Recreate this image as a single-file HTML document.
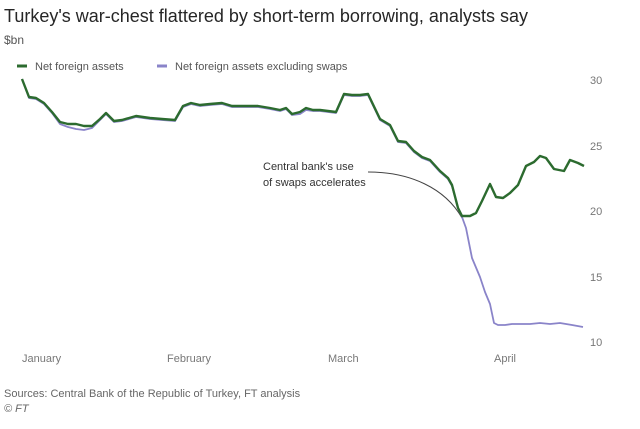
<!DOCTYPE html>
<html><head><style>
body{margin:0;background:#fff;}
svg text{font-family:"Liberation Sans",sans-serif;}
</style></head><body>
<svg width="640" height="424" xmlns="http://www.w3.org/2000/svg">
<rect width="640" height="424" fill="#fff"/>
<text x="4" y="22" font-size="18" fill="#262626">Turkey's war-chest flattered by short-term borrowing, analysts say</text>
<text x="4" y="44" font-size="12" fill="#555">$bn</text>
<line x1="17" y1="66" x2="27" y2="66" stroke="#2c6b2f" stroke-width="3"/>
<text x="35" y="70" font-size="11" fill="#555">Net foreign assets</text>
<line x1="157" y1="66" x2="167" y2="66" stroke="#8a84c9" stroke-width="3"/>
<text x="175" y="70" font-size="11" fill="#555">Net foreign assets excluding swaps</text>
<g font-size="11" fill="#777">
<text x="590" y="84">30</text><text x="590" y="150">25</text><text x="590" y="215">20</text><text x="590" y="281">15</text><text x="590" y="346">10</text>
<text x="22" y="362">January</text><text x="167" y="362">February</text><text x="328" y="362">March</text><text x="494" y="362">April</text>
</g>
<text x="263" y="170" font-size="11" fill="#333">Central bank's use</text>
<text x="263" y="186" font-size="11" fill="#333">of swaps accelerates</text>
<path d="M368,172 C410,172 445,188 462,218" fill="none" stroke="#444" stroke-width="1"/>
<polyline fill="none" stroke="#8a84c9" stroke-width="1.8" stroke-linejoin="round" points="22,79 29,98 36,99 44,104 52,113 60,124 68,127 76,129 84,130 92,128 100,120 106,114 114,122 122,121 136,117 150,119 162,120 175,121 183,107 191,104 200,106 210,105 222,104 232,107 245,107 258,107 270,109 280,111 286,109 292,115 300,114 306,110 313,111 320,111 336,113 344,95 352,96 360,96 368,95 380,120 390,126 398,142 406,143 414,152 422,158 430,161 440,172 448,179 452,186 458,208 462,217 466,228 472,258 480,277 485,292 490,304 494,323 498,325 505,325 512,324 520,324 530,324 540,323 550,324 560,323 572,325 583,327"/>
<polyline fill="none" stroke="#2c6b2f" stroke-width="2.4" stroke-linejoin="round" points="22,79 29,97 36,98 44,103 52,112 60,122 68,124 76,124 84,126 92,126 100,119 106,113 114,121 122,120 136,116 150,118 162,119 175,120 183,106 191,103 200,105 210,104 222,103 232,106 245,106 258,106 270,108 280,110 286,108 292,114 300,112 306,108 313,110 320,110 336,112 344,94 352,95 360,95 368,94 380,119 390,125 398,141 406,142 414,151 422,157 430,160 440,171 448,178 452,185 458,208 462,216 470,216 476,213 482,201 490,184 496,197 503,198 510,193 518,185 526,166 534,162 540,156 546,158 554,169 564,171 570,160 578,163 584,166"/>
<text x="4" y="397" font-size="11" fill="#666">Sources: Central Bank of the Republic of Turkey, FT analysis</text>
<text x="4" y="412" font-size="11" fill="#666" font-style="italic">© FT</text>
</svg>
</body></html>
